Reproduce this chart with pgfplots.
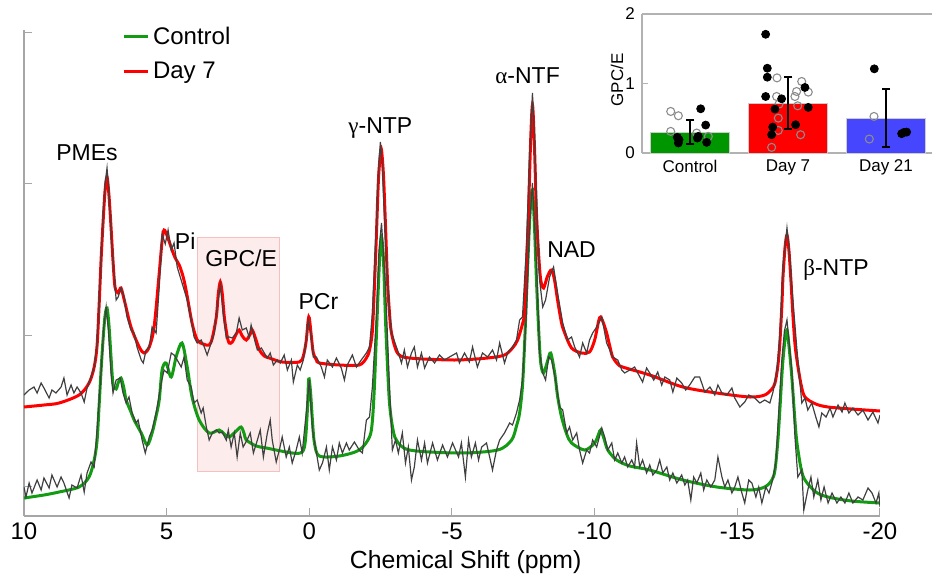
\documentclass[border=0pt]{standalone}
\usepackage{fontspec}
\setmainfont{Liberation Sans}
\newfontfamily\grk{Liberation Serif}
\usepackage{pgfplots}
\pgfplotsset{compat=1.18}
\definecolor{fitgreen}{RGB}{20,155,20}
\definecolor{fitred}{RGB}{255,0,0}
\definecolor{rawgray}{RGB}{64,64,64}
\definecolor{boxfill}{RGB}{253,236,236}
\definecolor{boxdraw}{RGB}{246,192,192}
\definecolor{bargreen}{RGB}{0,150,0}
\definecolor{barred}{RGB}{255,0,0}
\definecolor{barblue}{RGB}{70,70,255}
\begin{document}
\begin{tikzpicture}
\useasboundingbox (0,0) rectangle (466pt,287.5pt);
\begin{axis}[
  at={(12pt,29.5pt)}, anchor=south west,
  scale only axis, width=428pt, height=243pt,
  xmin=-20, xmax=10, x dir=reverse,
  ymin=0, ymax=486,
  axis x line=bottom, axis y line=left,
  axis line style={draw=black!35, line width=0.6pt, -},
  xtick={-20,-15,-10,-5,0,5,10},
  ytick={30,181,333,484}, yticklabels={},
  tick align=inside, major tick length=4pt,
  tick style={draw=black!35, line width=0.5pt},
  tick label style={font=\fontsize{12}{14}\selectfont},
  /pgf/number format/assume math mode=true,
  xlabel={Chemical Shift (ppm)},
  xlabel style={font=\fontsize{12.4}{14}\selectfont, at={(axis description cs:0.516,0)}, anchor=center, yshift=-23pt},
  legend style={draw=none, fill=white, at={(0.112,1.02)}, anchor=north west,
    font=\fontsize{12}{14}\selectfont, row sep=3.5pt, inner sep=1pt, nodes={inner sep=2pt}},
  legend cell align=left,
  legend image code/.code={\draw[#1, line width=1.4pt] (0pt,0pt) -- (12pt,0pt);},
]
% GPC/E shaded region
\addplot[forget plot, fill=boxfill, draw=boxdraw, line width=0.5pt] coordinates {(3.93,45) (1.05,45) (1.05,279) (3.93,279)} -- cycle;

% Control fit
\addplot[fitgreen, line width=1.5pt, smooth, tension=0.5] coordinates {
(10.0,18) (9.3,21) (8.77,24) (8.07,29) (7.72,39) (7.54,56) (7.44,75) (7.37,109) (7.30,145) (7.23,176) (7.16,200) (7.09,208) (7.02,190) (6.95,159) (6.88,132) (6.77,127) (6.70,133) (6.60,138) (6.50,128) (6.42,116) (6.25,104) (6.14,96) (5.89,83) (5.68,71) (5.51,83) (5.37,100) (5.26,116) (5.16,146) (5.02,153) (4.84,139) (4.66,160) (4.46,173) (4.28,149) (4.11,119) (3.86,96) (3.51,83) (3.16,86) (2.98,82) (2.81,79) (2.56,85) (2.39,89) (2.28,82) (2.21,76) (1.86,70) (1.51,68) (0.60,63) (0.25,64) (0.14,75) (0.07,105) (0.02,137) (-0.04,125) (-0.11,95) (-0.18,73) (-0.35,60) (-1.05,60) (-1.75,66) (-2.11,79) (-2.21,95) (-2.28,129) (-2.35,180) (-2.42,230) (-2.47,260) (-2.53,279) (-2.60,255) (-2.67,196) (-2.74,150) (-2.81,113) (-2.91,90) (-3.05,76) (-3.51,66) (-5.26,63) (-6.60,66) (-7.09,76) (-7.26,90) (-7.37,103) (-7.47,130) (-7.54,169) (-7.61,220) (-7.68,269) (-7.75,310) (-7.82,326) (-7.89,290) (-7.96,236) (-8.04,185) (-8.11,153) (-8.21,143) (-8.35,155) (-8.46,163) (-8.60,143) (-8.70,120) (-8.84,99) (-9.02,82) (-9.19,73) (-9.65,66) (-10.00,73) (-10.14,82) (-10.21,86) (-10.32,78) (-10.46,66) (-10.77,56) (-11.23,50) (-11.93,46) (-13.09,36) (-14.28,29) (-15.44,26) (-15.96,29) (-16.21,36) (-16.32,46) (-16.42,75) (-16.49,106) (-16.56,140) (-16.60,156) (-16.67,176) (-16.74,186) (-16.81,170) (-16.91,139) (-17.02,95) (-17.09,73) (-17.23,48) (-17.37,36) (-17.75,24) (-18.18,19) (-19.0,15) (-20.0,13)
};
\addlegendentry{Control}

% Day 7 fit
\addplot[fitred, line width=1.5pt, smooth, tension=0.5] coordinates {
(10.0,109) (9.3,111) (8.77,113) (8.07,121) (7.72,133) (7.54,149) (7.44,170) (7.37,209) (7.30,255) (7.23,293) (7.16,325) (7.09,339) (7.02,320) (6.95,289) (6.88,255) (6.81,229) (6.70,223) (6.60,228) (6.46,213) (6.25,189) (5.96,169) (5.79,163) (5.61,169) (5.44,189) (5.26,243) (5.16,275) (5.09,286) (4.98,280) (4.81,266) (4.70,258) (4.56,251) (4.43,240) (4.32,226) (4.11,193) (3.93,176) (3.72,172) (3.51,171) (3.40,178) (3.26,199) (3.19,222) (3.12,234) (3.05,222) (2.98,199) (2.88,180) (2.81,173) (2.70,174) (2.56,182) (2.46,186) (2.35,180) (2.21,176) (2.07,182) (2.00,186) (1.89,178) (1.75,166) (1.58,160) (1.40,158) (0.95,154) (0.35,154) (0.21,160) (0.11,175) (0.04,196) (0.00,198) (-0.07,180) (-0.14,163) (-0.25,156) (-0.35,153) (-1.05,151) (-1.75,151) (-2.00,158) (-2.11,166) (-2.21,185) (-2.28,229) (-2.35,280) (-2.42,335) (-2.49,362) (-2.53,366) (-2.60,340) (-2.67,290) (-2.74,235) (-2.81,203) (-2.88,183) (-3.09,163) (-3.51,158) (-5.09,156) (-6.25,158) (-6.84,161) (-7.12,168) (-7.30,176) (-7.47,192) (-7.54,203) (-7.61,250) (-7.68,303) (-7.75,370) (-7.82,411) (-7.89,370) (-7.96,303) (-8.04,260) (-8.11,236) (-8.21,228) (-8.35,240) (-8.49,246) (-8.60,235) (-8.70,216) (-8.84,193) (-8.95,183) (-9.19,168) (-9.54,163) (-9.82,164) (-10.00,176) (-10.14,195) (-10.21,199) (-10.32,192) (-10.42,183) (-10.53,170) (-10.63,159) (-10.81,152) (-10.98,149) (-11.93,141) (-13.09,129) (-14.28,123) (-15.44,119) (-15.96,121) (-16.21,127) (-16.32,133) (-16.42,150) (-16.49,173) (-16.56,210) (-16.60,239) (-16.67,268) (-16.74,281) (-16.81,265) (-16.88,235) (-16.95,200) (-17.02,172) (-17.09,156) (-17.23,132) (-17.37,119) (-17.75,112) (-18.18,109) (-19.0,107) (-20.0,105)
};
\addlegendentry{Day 7}

% Control data
\addplot[forget plot, rawgray, line width=0.6pt] coordinates {
(10.0,29) (9.93,19) (9.82,33) (9.72,23) (9.54,36) (9.40,26) (9.30,38) (9.12,28) (9.02,41) (8.84,29) (8.70,39) (8.60,33) (8.42,18) (8.32,31) (8.14,28) (8.00,41) (7.89,24) (7.79,43) (7.65,54) (7.54,49) (7.44,86) (7.30,143) (7.20,190) (7.12,209) (7.04,185) (6.95,143) (6.88,123) (6.77,136) (6.63,138) (6.53,123) (6.42,113) (6.32,119) (6.21,103) (6.07,93) (6.00,96) (5.86,76) (5.75,63) (5.61,79) (5.51,86) (5.37,103) (5.19,133) (5.09,146) (4.98,143) (4.84,163) (4.74,161) (4.63,156) (4.49,149) (4.39,159) (4.28,136) (4.14,129) (4.04,113) (3.93,116) (3.79,103) (3.72,108) (3.61,89) (3.51,76) (3.40,83) (3.26,86) (3.16,83) (3.05,84) (2.91,76) (2.84,86) (2.74,69) (2.63,83) (2.53,59) (2.42,83) (2.32,69) (2.18,76) (2.07,83) (1.96,63) (1.82,76) (1.72,86) (1.61,59) (1.47,83) (1.37,96) (1.30,76) (1.16,54) (1.05,66) (0.95,79) (0.81,59) (0.70,69) (0.60,53) (0.46,66) (0.35,79) (0.25,63) (0.11,103) (0.00,136) (-0.11,86) (-0.25,63) (-0.35,46) (-0.46,53) (-0.60,69) (-0.70,46) (-0.81,69) (-0.95,56) (-1.05,73) (-1.16,63) (-1.30,73) (-1.40,66) (-1.58,74) (-1.75,66) (-1.86,63) (-2.00,96) (-2.11,99) (-2.21,129) (-2.35,200) (-2.44,265) (-2.53,293) (-2.67,229) (-2.81,129) (-2.91,66) (-3.02,76) (-3.12,63) (-3.26,83) (-3.37,53) (-3.47,69) (-3.58,36) (-3.68,49) (-3.79,76) (-3.93,56) (-4.04,73) (-4.14,53) (-4.32,73) (-4.49,56) (-4.67,71) (-4.84,59) (-5.02,73) (-5.23,59) (-5.33,73) (-5.47,39) (-5.58,76) (-5.68,59) (-5.82,73) (-5.93,56) (-6.04,69) (-6.21,73) (-6.32,59) (-6.42,46) (-6.56,66) (-6.67,76) (-6.84,83) (-7.02,93) (-7.12,91) (-7.26,103) (-7.37,116) (-7.47,136) (-7.61,203) (-7.72,290) (-7.82,333) (-7.96,253) (-8.07,163) (-8.18,143) (-8.28,136) (-8.39,159) (-8.49,156) (-8.63,136) (-8.77,109) (-8.88,106) (-9.02,83) (-9.12,89) (-9.23,76) (-9.37,83) (-9.47,66) (-9.58,53) (-9.72,66) (-9.82,63) (-9.93,76) (-10.07,69) (-10.25,88) (-10.35,79) (-10.46,66) (-10.60,73) (-10.70,56) (-10.81,63) (-10.95,53) (-11.05,59) (-11.16,49) (-11.30,56) (-11.40,49) (-11.47,73) (-11.58,49) (-11.68,56) (-11.82,43) (-11.93,51) (-12.04,41) (-12.18,46) (-12.28,56) (-12.39,43) (-12.53,49) (-12.63,36) (-12.74,43) (-12.88,33) (-13.05,41) (-13.16,31) (-13.26,36) (-13.37,16) (-13.47,39) (-13.58,33) (-13.72,43) (-13.82,26) (-13.93,36) (-14.07,29) (-14.21,36) (-14.32,59) (-14.46,39) (-14.56,29) (-14.67,36) (-14.81,23) (-14.91,29) (-15.02,39) (-15.16,23) (-15.26,13) (-15.40,36) (-15.51,33) (-15.65,19) (-15.75,29) (-15.86,13) (-16.00,29) (-16.11,23) (-16.21,33) (-16.35,53) (-16.42,89) (-16.56,156) (-16.65,185) (-16.74,196) (-16.91,146) (-17.02,79) (-17.12,39) (-17.26,46) (-17.33,6) (-17.47,26) (-17.58,39) (-17.68,19) (-17.82,36) (-17.93,16) (-18.04,29) (-18.18,13) (-18.32,23) (-18.49,13) (-18.63,19) (-18.77,13) (-18.91,23) (-19.05,13) (-19.23,19) (-19.40,16) (-19.58,28) (-19.72,23) (-19.86,13) (-19.96,23) (-20.0,9)
};

% Day 7 data
\addplot[forget plot, rawgray, line width=0.6pt] coordinates {
(10.0,121) (9.82,126) (9.65,129) (9.54,123) (9.40,133) (9.30,128) (9.12,118) (9.02,126) (8.88,123) (8.70,129) (8.60,138) (8.49,121) (8.35,131) (8.25,123) (8.14,129) (8.00,123) (7.89,114) (7.79,128) (7.65,139) (7.54,149) (7.44,172) (7.37,212) (7.30,258) (7.23,298) (7.16,332) (7.09,348) (7.02,322) (6.91,266) (6.77,216) (6.70,219) (6.60,228) (6.49,219) (6.39,199) (6.25,186) (6.14,183) (6.04,169) (5.89,156) (5.82,153) (5.72,166) (5.61,169) (5.51,189) (5.37,183) (5.26,229) (5.16,282) (5.05,272) (4.95,286) (4.84,266) (4.74,273) (4.63,249) (4.46,233) (4.28,216) (4.14,196) (4.04,179) (3.93,173) (3.79,176) (3.68,169) (3.58,161) (3.44,173) (3.33,183) (3.23,209) (3.12,231) (3.02,203) (2.91,178) (2.81,179) (2.70,178) (2.56,183) (2.46,198) (2.35,186) (2.21,188) (2.11,179) (2.04,191) (1.89,173) (1.82,166) (1.68,168) (1.58,163) (1.47,158) (1.37,163) (1.26,151) (1.12,156) (1.02,153) (0.88,161) (0.77,146) (0.63,156) (0.56,134) (0.42,151) (0.32,146) (0.21,156) (0.11,176) (0.04,196) (-0.07,179) (-0.14,159) (-0.25,159) (-0.42,149) (-0.53,139) (-0.63,156) (-0.81,149) (-0.95,158) (-1.12,148) (-1.23,136) (-1.33,151) (-1.51,161) (-1.65,149) (-1.82,156) (-2.00,163) (-2.11,169) (-2.21,203) (-2.35,290) (-2.42,345) (-2.49,374) (-2.56,350) (-2.63,300) (-2.70,256) (-2.81,205) (-2.88,183) (-3.09,166) (-3.23,153) (-3.33,166) (-3.44,149) (-3.58,163) (-3.68,169) (-3.79,149) (-3.93,163) (-4.04,148) (-4.21,159) (-4.39,153) (-4.56,161) (-4.74,156) (-4.91,159) (-5.16,163) (-5.26,153) (-5.44,163) (-5.61,154) (-5.72,169) (-5.89,149) (-6.07,163) (-6.25,159) (-6.42,166) (-6.56,156) (-6.67,173) (-6.84,153) (-6.95,163) (-7.12,169) (-7.26,176) (-7.37,196) (-7.47,199) (-7.61,269) (-7.72,360) (-7.82,423) (-7.89,380) (-7.96,319) (-8.07,236) (-8.18,209) (-8.28,216) (-8.42,239) (-8.56,249) (-8.70,223) (-8.88,193) (-9.05,176) (-9.19,179) (-9.30,169) (-9.47,159) (-9.58,173) (-9.72,163) (-9.82,176) (-9.93,183) (-10.07,189) (-10.25,199) (-10.42,173) (-10.53,166) (-10.63,159) (-10.81,156) (-10.95,146) (-11.05,143) (-11.23,146) (-11.40,149) (-11.51,143) (-11.68,134) (-11.82,148) (-11.93,143) (-12.07,136) (-12.21,144) (-12.35,131) (-12.46,139) (-12.63,136) (-12.74,124) (-12.88,138) (-13.05,133) (-13.19,126) (-13.33,131) (-13.51,139) (-13.68,139) (-13.86,124) (-14.04,129) (-14.21,121) (-14.32,131) (-14.46,123) (-14.63,121) (-14.81,128) (-14.91,118) (-15.09,109) (-15.26,114) (-15.40,121) (-15.61,118) (-15.79,113) (-15.96,116) (-16.14,113) (-16.25,124) (-16.39,146) (-16.49,180) (-16.60,250) (-16.74,288) (-16.84,260) (-16.91,229) (-17.09,166) (-17.26,113) (-17.37,118) (-17.47,106) (-17.61,113) (-17.75,99) (-17.86,89) (-17.96,103) (-18.11,99) (-18.25,108) (-18.35,99) (-18.53,111) (-18.67,104) (-18.77,113) (-18.91,103) (-19.05,108) (-19.23,101) (-19.40,106) (-19.58,96) (-19.75,104) (-19.93,93) (-20.0,101)
};

% peak labels
\begin{scope}[font=\fontsize{11.5}{13}\selectfont]
\node at (axis cs:7.79,363) {PMEs};
\node at (axis cs:4.35,275) {Pi};
\node at (axis cs:2.39,258) {GPC/E};
\node at (axis cs:-0.32,214) {PCr};
\node at (axis cs:-2.49,388) {{\grk γ}-NTP};
\node at (axis cs:-7.65,440) {{\grk α}-NTF};
\node at (axis cs:-9.19,266) {NAD};
\node at (axis cs:-18.46,246) {{\grk β}-NTP};
\end{scope}
\end{axis}

% Inset
\begin{axis}[
  at={(321pt,211pt)}, anchor=south west,
  scale only axis, width=145pt, height=69.5pt,
  xmin=-0.49, xmax=2.47, ymin=0, ymax=2,
  axis x line=box, axis y line=left,
  axis line style={draw=black!30, line width=0.6pt, -},
  xtick={0,1,2}, xticklabels={Control, Day 7, Day 21},
  x tick style={draw=none},
  ytick={0,1,2},
  tick align=inside, major tick length=3pt,
  y tick style={draw=black!30, line width=0.5pt},
  tick label style={font=\fontsize{8.5}{10}\selectfont},
  /pgf/number format/assume math mode=true,
  ylabel={GPC/E},
  ylabel style={font=\fontsize{8.5}{10}\selectfont, at={(axis description cs:-0.086,0.525)}, anchor=center},
]
\addplot[ybar, bar width=0.8, bar shift=0pt, fill=bargreen, draw=black!20] coordinates {(0,0.30)};
\addplot[ybar, bar width=0.8, bar shift=0pt, fill=barred, draw=black!20] coordinates {(1,0.72)};
\addplot[ybar, bar width=0.8, bar shift=0pt, fill=barblue, draw=black!20] coordinates {(2,0.50)};
% open circles
\addplot[only marks, mark=o, mark size=2pt, draw=black!45, line width=0.55pt] coordinates {
(-0.197,0.598) (-0.119,0.536) (-0.197,0.311) (0.068,0.287) (0.187,0.239)
(0.888,1.081) (0.884,0.813) (0.908,0.703) (0.901,0.502) (0.901,0.325) (0.833,0.081) (1.140,1.029) (1.088,0.885) (1.071,0.813) (1.207,0.876) (1.099,0.679) (1.129,0.263)
(1.878,0.526) (1.830,0.201)
};
% filled circles
\addplot[only marks, mark=*, mark size=2pt, black] coordinates {
(-0.129,0.225) (-0.112,0.191) (-0.119,0.144) (0.109,0.636) (0.160,0.402) (0.085,0.239) (0.075,0.215) (0.170,0.153)
(0.772,1.708) (0.789,1.220) (0.789,1.091) (0.772,0.813) (0.935,0.780) (0.867,0.632) (0.844,0.373) (0.833,0.263) (1.173,0.943) (1.207,0.656) (1.078,0.407)
(1.881,1.211) (2.160,0.278) (2.184,0.297) (2.211,0.301)
};
% error bars (mean - sd to mean + sd)
\addplot[black, line width=1pt, mark=-, mark size=2.2pt] coordinates {(0,0.13) (0,0.47)};
\addplot[black, line width=1pt, mark=-, mark size=2.2pt] coordinates {(1,0.345) (1,1.095)};
\addplot[black, line width=1pt, mark=-, mark size=2.2pt] coordinates {(2,0.08) (2,0.92)};
\end{axis}
\end{tikzpicture}
\end{document}
